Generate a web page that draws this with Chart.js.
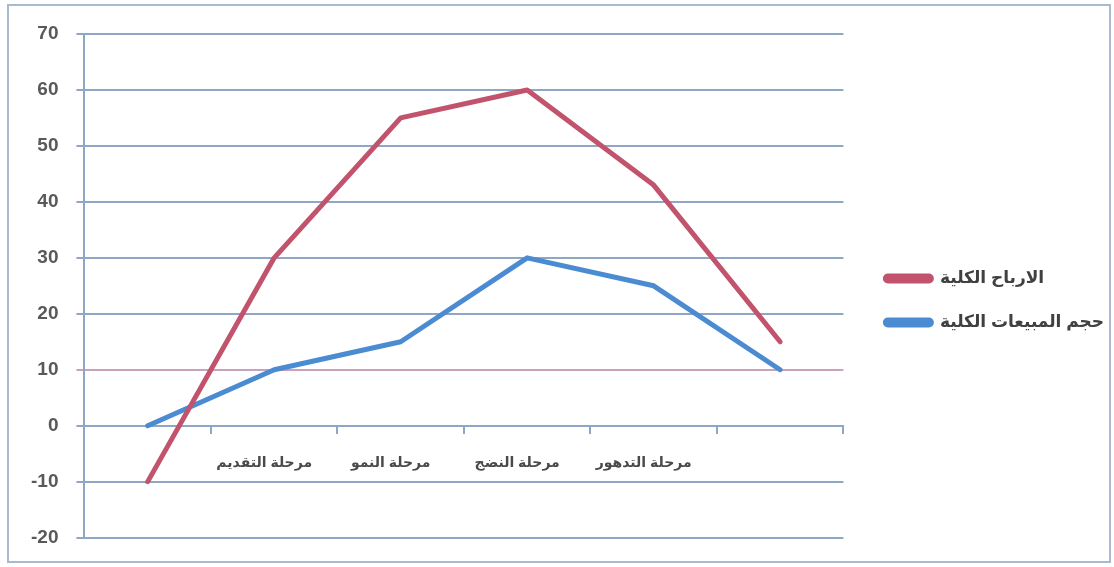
<!DOCTYPE html>
<html>
<head>
<meta charset="utf-8">
<script src="https://cdn.jsdelivr.net/npm/chart.js@4"></script>
<style>
	html, body { margin: 0; padding: 0; background: #fff; }
	#wrap { position: relative; width: 1114px; height: 567px; }
</style>
</head>
<body>
<div id="wrap"><canvas id="lifeCycle"></canvas></div>
<script>
const stages = ['', 'مرحلة التقديم', 'مرحلة النمو', 'مرحلة النضج', 'مرحلة التدهور', ''];
const profitLabel = 'الارباح الكلية';
const salesLabel = 'حجم المبيعات الكلية';
const profitValues = [-10, 30, 55, 60, 43, 15];
const salesValues = [0, 10, 15, 30, 25, 10];
const yTicks = [-20, -10, 0, 10, 20, 30, 40, 50, 60, 70];

const axisFont = "'Liberation Sans', 'DejaVu Sans', Arial, sans-serif";

// white page plus the thin frame around the whole chart
const framePlugin = {
	id: 'frame',
	beforeDraw(chart) {
		const ctx = chart.ctx;
		ctx.save();
		ctx.fillStyle = '#ffffff';
		ctx.fillRect(0, 0, chart.width, chart.height);
		ctx.strokeStyle = '#a9b9cf';
		ctx.lineWidth = 2;
		ctx.strokeRect(8, 5, chart.width - 12, chart.height - 10);
		ctx.restore();
	}
};

// push the legend block a little right and down from where the layout puts it
const legendNudge = {
	id: 'legendNudge',
	afterLayout(chart) {
		const lg = chart.legend;
		if (!lg) return;
		lg.left += 15;
		lg.right += 15;
		lg.top += 14;
		lg.bottom += 14;
	}
};

new Chart(document.getElementById('lifeCycle'), {
	type: 'line',
	data: {
		labels: stages,
		datasets: [
			{
				label: profitLabel,
				data: profitValues,
				borderColor: '#c2536d',
				backgroundColor: '#c2536d',
				borderWidth: 5,
				pointRadius: 0,
				tension: 0,
				borderCapStyle: 'round',
				borderJoinStyle: 'round'
			},
			{
				label: salesLabel,
				data: salesValues,
				borderColor: '#4b8bd1',
				backgroundColor: '#4b8bd1',
				borderWidth: 5,
				pointRadius: 0,
				tension: 0,
				borderCapStyle: 'round',
				borderJoinStyle: 'round'
			}
		]
	},
	options: {
		responsive: true,
		maintainAspectRatio: false,
		animation: false,
		layout: {
			padding: { left: 13, top: 34, bottom: 28, right: 15 }
		},
		scales: {
			x: {
				position: { y: 0 },
				offset: true,
				grid: {
					offset: true,
					drawOnChartArea: false,
					drawTicks: true,
					tickLength: 7,
					color: '#8fa6c4',
					lineWidth: 2
				},
				border: { color: '#8fa6c4', width: 2 },
				ticks: {
					color: '#4a4a4a',
					padding: 22,
					labelOffset: -10,
					maxRotation: 0,
					autoSkip: false,
					font: { family: axisFont, size: 14, weight: 'bold' }
				}
			},
			y: {
				min: -20,
				max: 70,
				afterBuildTicks(scale) {
					scale.ticks = yTicks.map(v => ({ value: v }));
				},
				grid: {
					color: ctx => (ctx.tick && ctx.tick.value === 10) ? '#c9a2be' : '#8fa6c4',
					lineWidth: 2,
					tickLength: 8
				},
				border: { color: '#8fa6c4', width: 2 },
				ticks: {
					color: '#595959',
					padding: 18,
					font: { family: axisFont, size: 19, weight: 'bold' }
				}
			}
		},
		plugins: {
			legend: {
				position: 'right',
				align: 'center',
				labels: {
					boxWidth: 46,
					boxHeight: 5,
					useBorderRadius: true,
					borderRadius: 2.5,
					padding: 27,
					color: '#404040',
					font: { family: axisFont, size: 17, weight: 'bold' }
				}
			},
			tooltip: { enabled: false }
		}
	},
	plugins: [framePlugin, legendNudge]
});
</script>
</body>
</html>
